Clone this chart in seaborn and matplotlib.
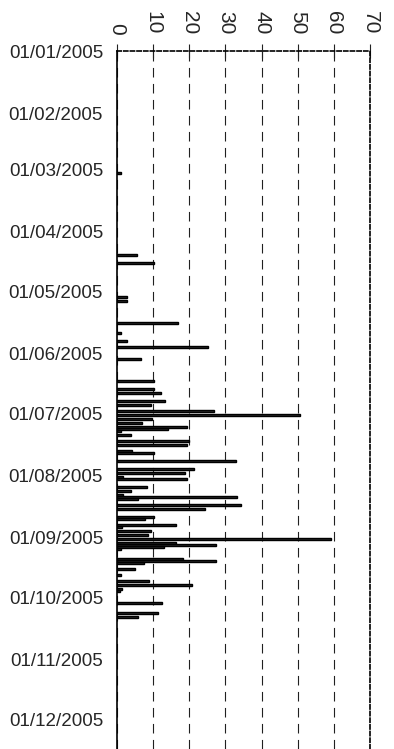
import numpy as np
import pandas as pd
import seaborn as sns
import matplotlib
matplotlib.use("Agg")
import matplotlib.pyplot as plt
import matplotlib.dates as mdates

# daily values (dd/mm/yyyy)
dates = [
    "03/03/2005", "13/04/2005", "17/04/2005", "04/05/2005", "06/05/2005",
    "17/05/2005", "22/05/2005", "26/05/2005", "29/05/2005", "04/06/2005",
    "15/06/2005", "19/06/2005", "21/06/2005", "25/06/2005", "27/06/2005",
    "30/06/2005", "02/07/2005", "04/07/2005", "06/07/2005", "08/07/2005",
    "09/07/2005", "10/07/2005", "12/07/2005", "15/07/2005", "17/07/2005",
    "20/07/2005", "21/07/2005", "25/07/2005", "29/07/2005", "31/07/2005",
    "02/08/2005", "03/08/2005", "07/08/2005", "09/08/2005", "11/08/2005",
    "12/08/2005", "13/08/2005", "16/08/2005", "18/08/2005", "22/08/2005",
    "23/08/2005", "26/08/2005", "27/08/2005", "29/08/2005", "31/08/2005",
    "02/09/2005", "04/09/2005", "05/09/2005", "06/09/2005", "07/09/2005",
    "12/09/2005", "13/09/2005", "14/09/2005", "17/09/2005", "20/09/2005",
    "23/09/2005", "25/09/2005", "27/09/2005", "28/09/2005", "04/10/2005",
    "09/10/2005", "11/10/2005",
]
values = [
    1.0, 5.5, 10.3, 2.8, 2.8,
    16.8, 1.2, 2.8, 25.3, 6.7,
    10.3, 10.3, 12.3, 13.3, 9.3,
    26.7, 50.7, 9.8, 6.8, 19.3,
    14.2, 1.2, 3.8, 19.8, 19.3,
    4.2, 10.3, 32.8, 21.2, 18.8,
    1.7, 19.3, 8.2, 3.9, 1.7,
    33.2, 5.7, 34.3, 24.3, 10.3,
    7.8, 16.4, 1.5, 9.4, 8.5,
    59.2, 16.4, 27.4, 12.9, 1.2,
    18.3, 27.4, 7.4, 4.9, 1.2,
    8.9, 20.8, 1.5, 0.8, 12.4,
    11.3, 5.8,
]
x_ticks = [0, 10, 20, 30, 40, 50, 60, 70]
start_date = "01/01/2005"
days_shown = 349

sns.set_style("white")
plt.rcParams["font.family"] = ["Liberation Sans", "DejaVu Sans"]

df = pd.DataFrame({
    "date": mdates.date2num(pd.to_datetime(dates, format="%d/%m/%Y")),
    "value": values,
})

fig = plt.figure(figsize=(3.94, 7.49), dpi=100)
ax = fig.add_axes([117 / 394, 0, 253 / 394, 1 - 51 / 749])

sns.barplot(data=df, x="value", y="date", orient="h", native_scale=True,
            width=1.0, color="#2a2a2a", saturation=1, edgecolor="black",
            linewidth=1.0, errorbar=None, ax=ax)

t0 = mdates.date2num(pd.to_datetime(start_date, format="%d/%m/%Y"))
ax.set_ylim(t0 + days_shown, t0)
ax.set_xlim(x_ticks[0], x_ticks[-1])
ax.set_xlabel("")
ax.set_ylabel("")

ax.xaxis.tick_top()
ax.set_xticks(x_ticks)
ax.set_xticklabels([str(t) for t in x_ticks], rotation=-90, fontsize=15)
ax.yaxis.set_major_locator(mdates.MonthLocator())
ax.yaxis.set_major_formatter(mdates.DateFormatter("%d/%m/%Y"))
for lab in ax.get_yticklabels():
    lab.set_fontsize(13.5)

ax.tick_params(axis="x", direction="inout", length=10, width=0.8,
               color="#222222", pad=7)
ax.tick_params(axis="y", direction="out", length=4, width=0.8,
               color="#222222", pad=6)

ax.grid(axis="x", linestyle=(0, (8.6, 5.8)), color="#202020", linewidth=0.8)
ax.grid(axis="y", visible=False)
ax.set_axisbelow(True)

ax.spines["left"].set_color("black")
ax.spines["left"].set_linewidth(1.2)
for side in ["top", "right"]:
    ax.spines[side].set_visible(True)
    ax.spines[side].set_color("black")
    ax.spines[side].set_linewidth(1.2)
    ax.spines[side].set_linestyle((0, (2.5, 1.5)))
ax.spines["bottom"].set_visible(False)

fig.savefig("out.png", dpi=100)
